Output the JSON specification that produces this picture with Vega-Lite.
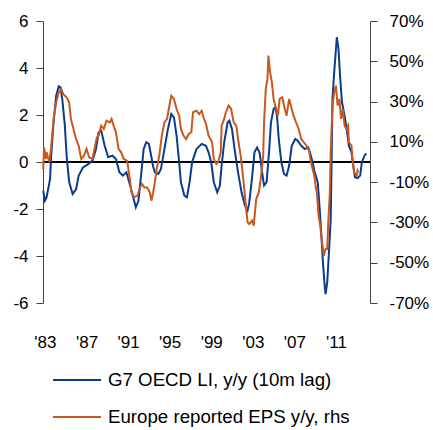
{
  "$schema": "https://vega.github.io/schema/vega-lite/v6.json",
  "width": 327,
  "height": 282,
  "autosize": {"type": "none"},
  "padding": {"left": 43, "top": 21, "right": 63, "bottom": 127},
  "background": "white",
  "config": {
    "view": {"stroke": null},
    "font": "Liberation Sans",
    "axis": {"labelFont": "Liberation Sans", "labelFontSize": 17, "labelColor": "#000", "grid": false, "title": null, "domainColor": "#444", "tickColor": "#444"},
    "legend": {"labelFont": "Liberation Sans"}
  },
  "data": {"values": [
    {"s": "G7", "d": "1982-11-01", "v": -1.22},
    {"s": "G7", "d": "1983-01-01", "v": -1.65},
    {"s": "G7", "d": "1983-03-01", "v": -1.5},
    {"s": "G7", "d": "1983-07-01", "v": -0.72},
    {"s": "G7", "d": "1983-08-01", "v": 0.13},
    {"s": "G7", "d": "1983-11-01", "v": 1.7},
    {"s": "G7", "d": "1984-02-01", "v": 2.82},
    {"s": "G7", "d": "1984-05-01", "v": 3.22},
    {"s": "G7", "d": "1984-07-01", "v": 3.18},
    {"s": "G7", "d": "1984-09-01", "v": 2.68},
    {"s": "G7", "d": "1984-12-01", "v": 1.55},
    {"s": "G7", "d": "1985-02-01", "v": 0.27},
    {"s": "G7", "d": "1985-05-01", "v": -0.85},
    {"s": "G7", "d": "1985-09-01", "v": -1.36},
    {"s": "G7", "d": "1986-01-01", "v": -1.15},
    {"s": "G7", "d": "1986-04-01", "v": -0.58},
    {"s": "G7", "d": "1986-09-01", "v": -0.23},
    {"s": "G7", "d": "1987-03-01", "v": -0.09},
    {"s": "G7", "d": "1987-08-01", "v": 0.06},
    {"s": "G7", "d": "1987-12-01", "v": 0.55},
    {"s": "G7", "d": "1988-03-01", "v": 1.26},
    {"s": "G7", "d": "1988-06-01", "v": 1.33},
    {"s": "G7", "d": "1988-10-01", "v": 0.69},
    {"s": "G7", "d": "1989-02-01", "v": 0.2},
    {"s": "G7", "d": "1989-07-01", "v": 0.27},
    {"s": "G7", "d": "1989-11-01", "v": 0.13},
    {"s": "G7", "d": "1990-03-01", "v": -0.44},
    {"s": "G7", "d": "1990-07-01", "v": -0.58},
    {"s": "G7", "d": "1990-11-01", "v": -0.44},
    {"s": "G7", "d": "1991-03-01", "v": -0.94},
    {"s": "G7", "d": "1991-07-01", "v": -1.5},
    {"s": "G7", "d": "1991-10-01", "v": -1.93},
    {"s": "G7", "d": "1992-01-01", "v": -1.65},
    {"s": "G7", "d": "1992-04-01", "v": -0.58},
    {"s": "G7", "d": "1992-07-01", "v": 0.55},
    {"s": "G7", "d": "1992-10-01", "v": 0.84},
    {"s": "G7", "d": "1993-01-01", "v": 0.77},
    {"s": "G7", "d": "1993-04-01", "v": 0.2},
    {"s": "G7", "d": "1993-06-01", "v": -0.2},
    {"s": "G7", "d": "1993-08-01", "v": -0.44},
    {"s": "G7", "d": "1993-12-01", "v": -0.51},
    {"s": "G7", "d": "1994-03-01", "v": -0.3},
    {"s": "G7", "d": "1994-07-01", "v": 0.55},
    {"s": "G7", "d": "1994-11-01", "v": 1.4},
    {"s": "G7", "d": "1995-03-01", "v": 2.04},
    {"s": "G7", "d": "1995-06-01", "v": 1.9},
    {"s": "G7", "d": "1995-09-01", "v": 1.12},
    {"s": "G7", "d": "1995-12-01", "v": 0},
    {"s": "G7", "d": "1996-02-01", "v": -0.86},
    {"s": "G7", "d": "1996-06-01", "v": -1.43},
    {"s": "G7", "d": "1996-09-01", "v": -1.5},
    {"s": "G7", "d": "1996-12-01", "v": -0.86},
    {"s": "G7", "d": "1997-03-01", "v": 0},
    {"s": "G7", "d": "1997-08-01", "v": 0.55},
    {"s": "G7", "d": "1998-02-01", "v": 0.77},
    {"s": "G7", "d": "1998-07-01", "v": 0.69},
    {"s": "G7", "d": "1998-10-01", "v": 0.4},
    {"s": "G7", "d": "1999-01-01", "v": 0},
    {"s": "G7", "d": "1999-04-01", "v": -0.86},
    {"s": "G7", "d": "1999-08-01", "v": -1.29},
    {"s": "G7", "d": "1999-11-01", "v": -1.0},
    {"s": "G7", "d": "2000-01-01", "v": -0.16},
    {"s": "G7", "d": "2000-04-01", "v": 0.84},
    {"s": "G7", "d": "2000-08-01", "v": 1.69},
    {"s": "G7", "d": "2000-10-01", "v": 1.76},
    {"s": "G7", "d": "2001-01-01", "v": 1.4},
    {"s": "G7", "d": "2001-04-01", "v": 0.55},
    {"s": "G7", "d": "2001-08-01", "v": -0.44},
    {"s": "G7", "d": "2001-12-01", "v": -1.29},
    {"s": "G7", "d": "2002-04-01", "v": -1.86},
    {"s": "G7", "d": "2002-07-01", "v": -2.07},
    {"s": "G7", "d": "2002-09-01", "v": -1.71},
    {"s": "G7", "d": "2002-12-01", "v": -0.72},
    {"s": "G7", "d": "2003-03-01", "v": 0.41},
    {"s": "G7", "d": "2003-06-01", "v": 0.62},
    {"s": "G7", "d": "2003-09-01", "v": 0.38},
    {"s": "G7", "d": "2003-12-01", "v": -0.5},
    {"s": "G7", "d": "2004-02-01", "v": -1.0},
    {"s": "G7", "d": "2004-05-01", "v": -0.86},
    {"s": "G7", "d": "2004-08-01", "v": 0.55},
    {"s": "G7", "d": "2004-10-01", "v": 1.69},
    {"s": "G7", "d": "2005-01-01", "v": 2.26},
    {"s": "G7", "d": "2005-03-01", "v": 2.33},
    {"s": "G7", "d": "2005-05-01", "v": 1.97},
    {"s": "G7", "d": "2005-07-01", "v": 0.98},
    {"s": "G7", "d": "2005-10-01", "v": 0},
    {"s": "G7", "d": "2006-01-01", "v": -0.51},
    {"s": "G7", "d": "2006-04-01", "v": -0.58},
    {"s": "G7", "d": "2006-07-01", "v": -0.16},
    {"s": "G7", "d": "2006-10-01", "v": 0.69},
    {"s": "G7", "d": "2007-02-01", "v": 0.98},
    {"s": "G7", "d": "2007-05-01", "v": 0.91},
    {"s": "G7", "d": "2007-09-01", "v": 0.69},
    {"s": "G7", "d": "2008-01-01", "v": 0.55},
    {"s": "G7", "d": "2008-05-01", "v": 0.62},
    {"s": "G7", "d": "2008-07-01", "v": 0.41},
    {"s": "G7", "d": "2008-10-01", "v": 0},
    {"s": "G7", "d": "2008-12-01", "v": -0.37},
    {"s": "G7", "d": "2009-04-01", "v": -0.86},
    {"s": "G7", "d": "2009-06-01", "v": -1.86},
    {"s": "G7", "d": "2009-08-01", "v": -2.99},
    {"s": "G7", "d": "2009-10-01", "v": -4.27},
    {"s": "G7", "d": "2009-12-01", "v": -5.26},
    {"s": "G7", "d": "2010-01-01", "v": -5.62},
    {"s": "G7", "d": "2010-03-01", "v": -5.12},
    {"s": "G7", "d": "2010-05-01", "v": -3.84},
    {"s": "G7", "d": "2010-07-01", "v": -2.43},
    {"s": "G7", "d": "2010-08-01", "v": 0},
    {"s": "G7", "d": "2010-09-01", "v": 2.68},
    {"s": "G7", "d": "2010-11-01", "v": 3.82},
    {"s": "G7", "d": "2011-01-01", "v": 4.81},
    {"s": "G7", "d": "2011-02-01", "v": 5.31},
    {"s": "G7", "d": "2011-04-01", "v": 4.81},
    {"s": "G7", "d": "2011-06-01", "v": 3.53},
    {"s": "G7", "d": "2011-08-01", "v": 2.54},
    {"s": "G7", "d": "2011-11-01", "v": 1.97},
    {"s": "G7", "d": "2012-02-01", "v": 1.26},
    {"s": "G7", "d": "2012-04-01", "v": 0.69},
    {"s": "G7", "d": "2012-07-01", "v": 0.41},
    {"s": "G7", "d": "2012-09-01", "v": -0.16},
    {"s": "G7", "d": "2012-11-01", "v": -0.65},
    {"s": "G7", "d": "2013-02-01", "v": -0.69},
    {"s": "G7", "d": "2013-05-01", "v": -0.58},
    {"s": "G7", "d": "2013-07-01", "v": 0},
    {"s": "G7", "d": "2013-10-01", "v": 0.27},
    {"s": "G7", "d": "2013-12-01", "v": 0.37},
    {"s": "EPS", "d": "1982-11-01", "v": -3.5},
    {"s": "EPS", "d": "1982-12-01", "v": 7.3},
    {"s": "EPS", "d": "1983-02-01", "v": 1.5},
    {"s": "EPS", "d": "1983-03-01", "v": 4.8},
    {"s": "EPS", "d": "1983-06-01", "v": 0},
    {"s": "EPS", "d": "1983-08-01", "v": 6.5},
    {"s": "EPS", "d": "1983-11-01", "v": 21.4},
    {"s": "EPS", "d": "1984-02-01", "v": 29.6},
    {"s": "EPS", "d": "1984-05-01", "v": 34.6},
    {"s": "EPS", "d": "1984-08-01", "v": 36.2},
    {"s": "EPS", "d": "1984-10-01", "v": 33.8},
    {"s": "EPS", "d": "1985-02-01", "v": 32.1},
    {"s": "EPS", "d": "1985-05-01", "v": 29.6},
    {"s": "EPS", "d": "1985-07-01", "v": 21.4},
    {"s": "EPS", "d": "1985-10-01", "v": 16.4},
    {"s": "EPS", "d": "1986-01-01", "v": 11.4},
    {"s": "EPS", "d": "1986-04-01", "v": 8.1},
    {"s": "EPS", "d": "1986-07-01", "v": 1.5},
    {"s": "EPS", "d": "1986-10-01", "v": 3.1},
    {"s": "EPS", "d": "1987-01-01", "v": 6.5},
    {"s": "EPS", "d": "1987-04-01", "v": 2.3},
    {"s": "EPS", "d": "1987-08-01", "v": 1.5},
    {"s": "EPS", "d": "1987-10-01", "v": 6},
    {"s": "EPS", "d": "1988-01-01", "v": 12.3},
    {"s": "EPS", "d": "1988-03-01", "v": 13.1},
    {"s": "EPS", "d": "1988-06-01", "v": 18},
    {"s": "EPS", "d": "1988-09-01", "v": 16.4},
    {"s": "EPS", "d": "1988-12-01", "v": 20.5},
    {"s": "EPS", "d": "1989-04-01", "v": 19.7},
    {"s": "EPS", "d": "1989-06-01", "v": 21.4},
    {"s": "EPS", "d": "1989-09-01", "v": 17.2},
    {"s": "EPS", "d": "1989-11-01", "v": 14.7},
    {"s": "EPS", "d": "1990-02-01", "v": 6.5},
    {"s": "EPS", "d": "1990-05-01", "v": 4.8},
    {"s": "EPS", "d": "1990-08-01", "v": 1.5},
    {"s": "EPS", "d": "1990-12-01", "v": 0.6},
    {"s": "EPS", "d": "1991-03-01", "v": -8.4},
    {"s": "EPS", "d": "1991-05-01", "v": -15},
    {"s": "EPS", "d": "1991-08-01", "v": -17.5},
    {"s": "EPS", "d": "1991-12-01", "v": -16.7},
    {"s": "EPS", "d": "1992-02-01", "v": -13.4},
    {"s": "EPS", "d": "1992-05-01", "v": -10.9},
    {"s": "EPS", "d": "1992-08-01", "v": -12.6},
    {"s": "EPS", "d": "1992-11-01", "v": -12.6},
    {"s": "EPS", "d": "1993-02-01", "v": -15},
    {"s": "EPS", "d": "1993-04-01", "v": -19.2},
    {"s": "EPS", "d": "1993-06-01", "v": -15},
    {"s": "EPS", "d": "1993-08-01", "v": -10},
    {"s": "EPS", "d": "1993-10-01", "v": -3.5},
    {"s": "EPS", "d": "1994-01-01", "v": 3.1},
    {"s": "EPS", "d": "1994-04-01", "v": 13.1},
    {"s": "EPS", "d": "1994-07-01", "v": 19.7},
    {"s": "EPS", "d": "1994-10-01", "v": 21.4},
    {"s": "EPS", "d": "1994-12-01", "v": 26.3},
    {"s": "EPS", "d": "1995-03-01", "v": 32.9},
    {"s": "EPS", "d": "1995-06-01", "v": 31.3},
    {"s": "EPS", "d": "1995-09-01", "v": 26.3},
    {"s": "EPS", "d": "1995-12-01", "v": 23},
    {"s": "EPS", "d": "1996-02-01", "v": 16.4},
    {"s": "EPS", "d": "1996-05-01", "v": 13.1},
    {"s": "EPS", "d": "1996-08-01", "v": 11.4},
    {"s": "EPS", "d": "1996-11-01", "v": 13.9},
    {"s": "EPS", "d": "1997-02-01", "v": 14.7},
    {"s": "EPS", "d": "1997-04-01", "v": 24.7},
    {"s": "EPS", "d": "1997-08-01", "v": 25.5},
    {"s": "EPS", "d": "1997-11-01", "v": 23.8},
    {"s": "EPS", "d": "1998-02-01", "v": 25.5},
    {"s": "EPS", "d": "1998-04-01", "v": 22.2},
    {"s": "EPS", "d": "1998-07-01", "v": 18.9},
    {"s": "EPS", "d": "1998-10-01", "v": 13.1},
    {"s": "EPS", "d": "1999-02-01", "v": 9.8},
    {"s": "EPS", "d": "1999-04-01", "v": 1.5},
    {"s": "EPS", "d": "1999-07-01", "v": -1},
    {"s": "EPS", "d": "1999-09-01", "v": 0},
    {"s": "EPS", "d": "1999-12-01", "v": 4.8},
    {"s": "EPS", "d": "2000-01-01", "v": 18},
    {"s": "EPS", "d": "2000-04-01", "v": 21.4},
    {"s": "EPS", "d": "2000-06-01", "v": 24.7},
    {"s": "EPS", "d": "2000-09-01", "v": 28},
    {"s": "EPS", "d": "2000-12-01", "v": 26.3},
    {"s": "EPS", "d": "2001-03-01", "v": 19.7},
    {"s": "EPS", "d": "2001-06-01", "v": 18},
    {"s": "EPS", "d": "2001-08-01", "v": 11.4},
    {"s": "EPS", "d": "2001-11-01", "v": 3.1},
    {"s": "EPS", "d": "2002-02-01", "v": -8.4},
    {"s": "EPS", "d": "2002-05-01", "v": -21.7},
    {"s": "EPS", "d": "2002-07-01", "v": -29.9},
    {"s": "EPS", "d": "2002-09-01", "v": -30.8},
    {"s": "EPS", "d": "2002-12-01", "v": -29.1},
    {"s": "EPS", "d": "2003-02-01", "v": -31.6},
    {"s": "EPS", "d": "2003-05-01", "v": -18.4},
    {"s": "EPS", "d": "2003-08-01", "v": -15},
    {"s": "EPS", "d": "2003-10-01", "v": -9},
    {"s": "EPS", "d": "2004-01-01", "v": 3},
    {"s": "EPS", "d": "2004-02-01", "v": 19.7},
    {"s": "EPS", "d": "2004-04-01", "v": 36.2},
    {"s": "EPS", "d": "2004-06-01", "v": 41.2},
    {"s": "EPS", "d": "2004-07-01", "v": 52.8},
    {"s": "EPS", "d": "2004-09-01", "v": 44.5},
    {"s": "EPS", "d": "2004-11-01", "v": 39.6},
    {"s": "EPS", "d": "2005-01-01", "v": 31.3},
    {"s": "EPS", "d": "2005-03-01", "v": 28},
    {"s": "EPS", "d": "2005-06-01", "v": 23},
    {"s": "EPS", "d": "2005-08-01", "v": 31.3},
    {"s": "EPS", "d": "2005-11-01", "v": 32.1},
    {"s": "EPS", "d": "2006-02-01", "v": 26.3},
    {"s": "EPS", "d": "2006-04-01", "v": 23},
    {"s": "EPS", "d": "2006-07-01", "v": 31.3},
    {"s": "EPS", "d": "2006-09-01", "v": 28},
    {"s": "EPS", "d": "2006-12-01", "v": 23},
    {"s": "EPS", "d": "2007-03-01", "v": 19.7},
    {"s": "EPS", "d": "2007-06-01", "v": 16.4},
    {"s": "EPS", "d": "2007-09-01", "v": 11.4},
    {"s": "EPS", "d": "2007-12-01", "v": 9.8},
    {"s": "EPS", "d": "2008-03-01", "v": 8.1},
    {"s": "EPS", "d": "2008-06-01", "v": 5.6},
    {"s": "EPS", "d": "2008-08-01", "v": 0},
    {"s": "EPS", "d": "2008-11-01", "v": -5.1},
    {"s": "EPS", "d": "2008-12-01", "v": -6.8},
    {"s": "EPS", "d": "2009-02-01", "v": -13.4},
    {"s": "EPS", "d": "2009-03-01", "v": -15},
    {"s": "EPS", "d": "2009-05-01", "v": -26.7},
    {"s": "EPS", "d": "2009-07-01", "v": -31.6},
    {"s": "EPS", "d": "2009-08-01", "v": -36.6},
    {"s": "EPS", "d": "2009-11-01", "v": -46.5},
    {"s": "EPS", "d": "2010-01-01", "v": -43.2},
    {"s": "EPS", "d": "2010-03-01", "v": -43.2},
    {"s": "EPS", "d": "2010-04-01", "v": -31.6},
    {"s": "EPS", "d": "2010-06-01", "v": -15},
    {"s": "EPS", "d": "2010-07-01", "v": 4.8},
    {"s": "EPS", "d": "2010-09-01", "v": 28},
    {"s": "EPS", "d": "2010-11-01", "v": 34.6},
    {"s": "EPS", "d": "2011-01-01", "v": 37.9},
    {"s": "EPS", "d": "2011-03-01", "v": 28},
    {"s": "EPS", "d": "2011-05-01", "v": 31.3},
    {"s": "EPS", "d": "2011-07-01", "v": 21.4},
    {"s": "EPS", "d": "2011-09-01", "v": 26.3},
    {"s": "EPS", "d": "2011-11-01", "v": 18},
    {"s": "EPS", "d": "2012-01-01", "v": 16.4},
    {"s": "EPS", "d": "2012-03-01", "v": 18},
    {"s": "EPS", "d": "2012-04-01", "v": 9.8},
    {"s": "EPS", "d": "2012-07-01", "v": 8.1},
    {"s": "EPS", "d": "2012-08-01", "v": 1.5},
    {"s": "EPS", "d": "2012-10-01", "v": -5.1},
    {"s": "EPS", "d": "2013-01-01", "v": -6.8},
    {"s": "EPS", "d": "2013-02-01", "v": -4.3},
    {"s": "EPS", "d": "2013-03-01", "v": -5.1}
  ]},
  "transform": [
    {"lookup": "s", "from": {"data": {"values": [
      {"s": "G7", "name": "G7 OECD LI, y/y (10m lag)"},
      {"s": "EPS", "name": "Europe reported EPS y/y, rhs"}
    ]}, "key": "s", "fields": ["name"]}}
  ],
  "layer": [
    {
      "mark": {"type": "rule", "color": "#000", "strokeWidth": 1},
      "encoding": {"y": {"datum": 0, "type": "quantitative", "scale": {"domain": [-6, 6]}, "axis": null}}
    },
    {
      "transform": [{"filter": "datum.s == 'G7'"}],
      "mark": {"type": "line", "strokeWidth": 2},
      "encoding": {
        "x": {"field": "d", "type": "temporal",
          "scale": {"type": "utc", "domain": [{"year": 1982, "month": 10, "date": 25, "utc": true}, {"year": 2014, "month": 4, "date": 12, "utc": true}]},
          "axis": {"orient": "bottom", "domain": false, "ticks": false, "tickSize": 0, "labelPadding": 31, "labelFlush": false, "format": "'%y",
            "values": [{"year": 1983, "utc": true}, {"year": 1987, "utc": true}, {"year": 1991, "utc": true}, {"year": 1995, "utc": true}, {"year": 1999, "utc": true}, {"year": 2003, "utc": true}, {"year": 2007, "utc": true}, {"year": 2011, "utc": true}]}},
        "y": {"field": "v", "type": "quantitative", "scale": {"domain": [-6, 6], "nice": false},
          "axis": {"orient": "left", "values": [-6, -4, -2, 0, 2, 4, 6], "labelExpr": "'' + datum.value", "tickSize": 7, "labelPadding": 8}},
        "color": {"field": "name", "type": "nominal",
          "scale": {"domain": ["G7 OECD LI, y/y (10m lag)", "Europe reported EPS y/y, rhs"], "range": ["#0b3c8c", "#c8581e"]},
          "legend": {"orient": "none", "legendX": 21, "legendY": 346, "direction": "vertical", "title": null, "padding": 0,
            "symbolType": "M-2,0L2,0", "symbolSize": 576, "symbolStrokeWidth": 2, "labelFontSize": 18.7, "labelOffset": 18, "labelLimit": 0, "rowPadding": 14, "labelColor": "#000"}}
      }
    },
    {
      "transform": [{"filter": "datum.s == 'EPS'"}],
      "mark": {"type": "line", "strokeWidth": 2},
      "encoding": {
        "x": {"field": "d", "type": "temporal"},
        "y": {"field": "v", "type": "quantitative", "scale": {"domain": [-70, 70], "nice": false},
          "axis": {"orient": "right", "values": [-70, -50, -30, -10, 10, 30, 50, 70], "labelExpr": "datum.value + '%'", "tickSize": 7, "labelPadding": 12}},
        "color": {"field": "name", "type": "nominal"}
      }
    }
  ],
  "resolve": {"scale": {"y": "independent"}}
}
